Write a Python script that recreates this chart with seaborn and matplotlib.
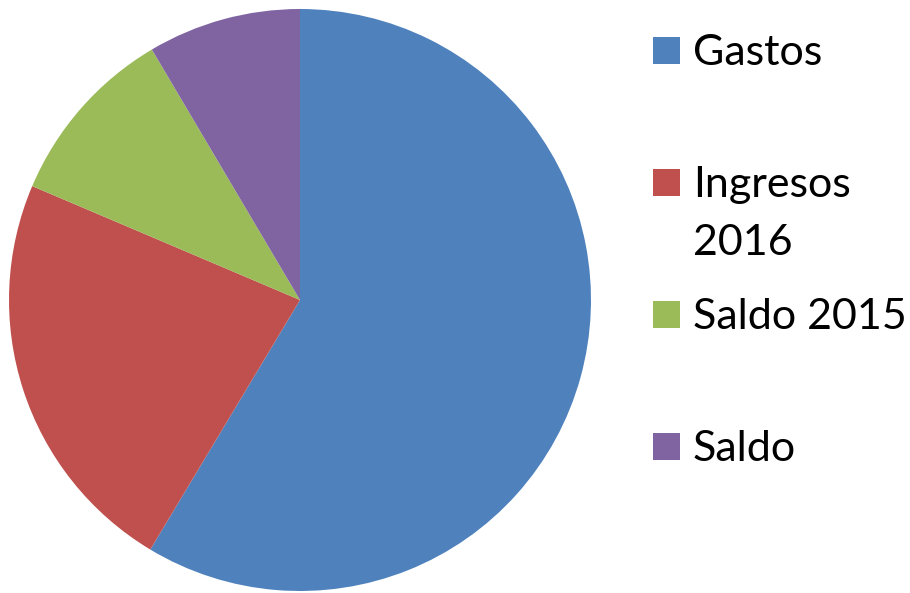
import matplotlib.pyplot as plt
import seaborn as sns
from matplotlib.patches import Rectangle

labels = ['Gastos', 'Ingresos\n2016', 'Saldo 2015', 'Saldo']
values = [58.6, 22.8, 10.1, 8.5]
colors = ['#4F81BD', '#C0504D', '#9BBB59', '#8064A2']

sns.set_theme(style='white')
plt.rcParams['font.family'] = ['Lato', 'DejaVu Sans']

W, H = 910, 593
fig = plt.figure(figsize=(W / 100, H / 100), dpi=100)
fig.patch.set_facecolor('white')

# pie centre (300, 300), radius 291 px
cx, cy, r = 300, 300, 291
ax = fig.add_axes([(cx - r) / W, (H - cy - r) / H, 2 * r / W, 2 * r / H])
palette = sns.color_palette(colors)
ax.pie(values, colors=palette, startangle=90, counterclock=False,
       radius=1, wedgeprops=dict(linewidth=0))
ax.set_xlim(-1, 1)
ax.set_ylim(-1, 1)
ax.set_aspect('equal')
ax.axis('off')

# legend drawn by hand, Excel style
sq = 27
x_sq = 653
x_txt = 693
for i, (lab, col) in enumerate(zip(labels, palette)):
    yc = 50 + i * 132
    fig.patches.append(Rectangle(((x_sq) / W, (H - yc - sq / 2) / H), sq / W, sq / H,
                                 transform=fig.transFigure, facecolor=col,
                                 edgecolor='none'))
    for j, line in enumerate(lab.split('\n')):
        yb = yc + 15 + j * 58
        fig.text(x_txt / W, (H - yb) / H, line, fontsize=31, color='black',
                 ha='left', va='baseline')

fig.savefig('out.png', dpi=100)
